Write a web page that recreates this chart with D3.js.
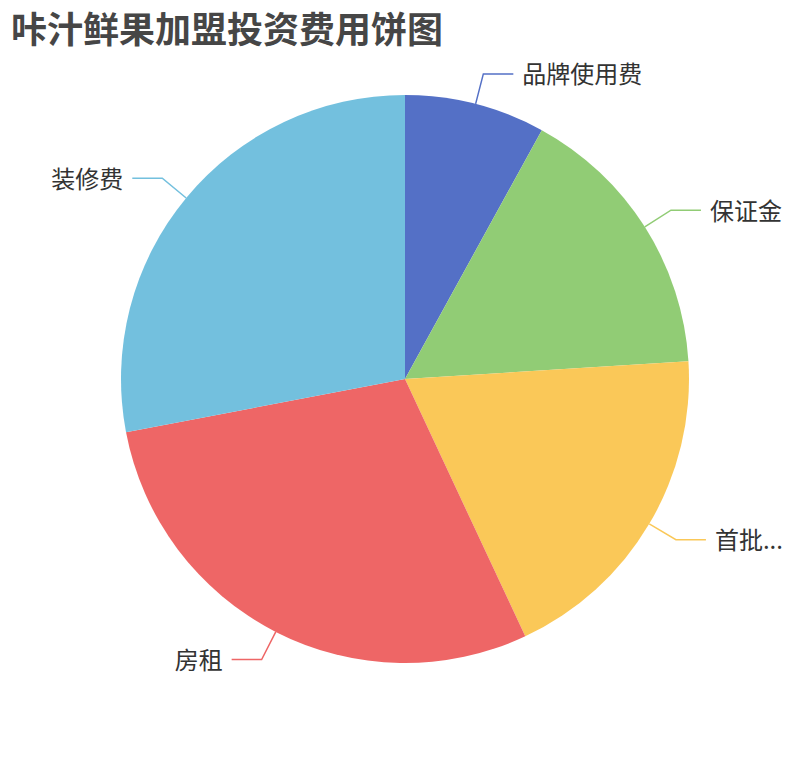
<!DOCTYPE html>
<html>
<head>
<meta charset="utf-8">
<script src="https://cdn.jsdelivr.net/npm/d3@7/dist/d3.min.js"></script>
<style>
  html, body { margin: 0; padding: 0; background: #fff; }
  svg { display: block; }
</style>
</head>
<body>
<svg id="chart" width="810" height="760"></svg>
<script>
const titleText = "咔汁鲜果加盟投资费用饼图";
const categories = ["品牌使用费", "保证金", "首批...", "房租", "装修费"];
const values = [5, 10, 11.9, 18.1, 17.5];
const colors = ["#5470c6", "#91cc75", "#fac858", "#ee6666", "#73c0de"];

const W = 810, H = 760;
const cx = 405, cy = 379, R = 284;
const len1 = 31, len2 = 30, gap = 9;

const svg = d3.select("#chart");

svg.append("text")
  .attr("x", 11).attr("y", 27)
  .attr("dominant-baseline", "central")
  .attr("font-family", "'Noto Sans CJK SC', sans-serif")
  .attr("font-weight", "bold")
  .attr("font-size", 36)
  .attr("fill", "#464646")
  .text(titleText);

const data = categories.map((c, i) => ({ name: c, value: values[i], color: colors[i] }));
const pie = d3.pie().sort(null).value(d => d.value).startAngle(0).endAngle(2 * Math.PI);
const arcs = pie(data);
const arc = d3.arc().innerRadius(0).outerRadius(R);

const g = svg.append("g").attr("transform", `translate(${cx},${cy})`);

g.selectAll("path.slice").data(arcs).enter().append("path")
  .attr("class", "slice")
  .attr("d", arc)
  .attr("fill", d => d.data.color);

arcs.forEach(d => {
  const a = (d.startAngle + d.endAngle) / 2;
  const sx = Math.sin(a), sy = -Math.cos(a);
  const p0 = [R * sx, R * sy];
  const p1 = [(R + len1) * sx, (R + len1) * sy];
  const dir = sx >= 0 ? 1 : -1;
  const p2 = [p1[0] + dir * len2, p1[1]];
  g.append("polyline")
    .attr("points", [p0, p1, p2].map(p => p.join(",")).join(" "))
    .attr("fill", "none")
    .attr("stroke", d.data.color)
    .attr("stroke-width", 1.5);
  g.append("text")
    .attr("x", p2[0] + dir * gap)
    .attr("y", p2[1] - 1)
    .attr("text-anchor", dir > 0 ? "start" : "end")
    .attr("dominant-baseline", "central")
    .attr("font-family", "'Noto Sans CJK SC', sans-serif")
    .attr("font-size", 24)
    .attr("fill", "#333")
    .text(d.data.name);
});
</script>
</body>
</html>
